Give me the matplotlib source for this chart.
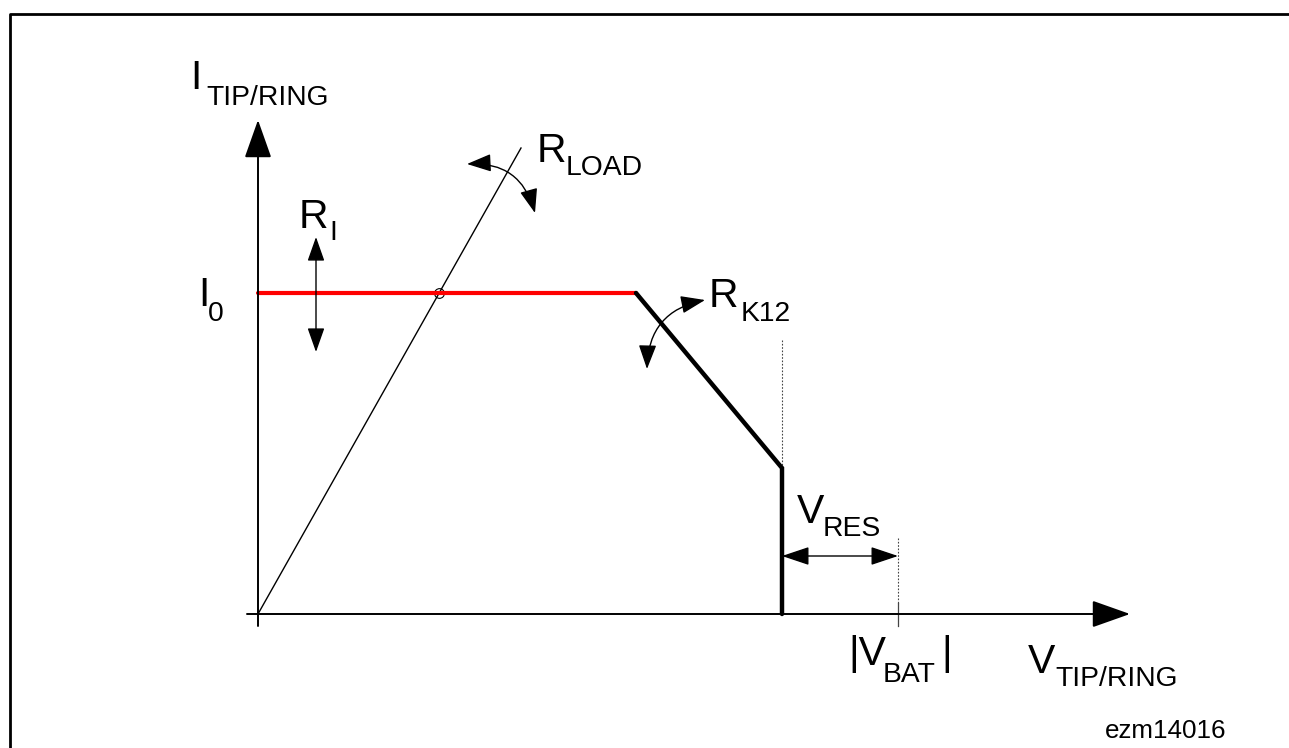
import matplotlib
matplotlib.use("Agg")
import matplotlib.pyplot as plt

plt.rcParams['font.family'] = ['Liberation Sans', 'DejaVu Sans']

# characteristic, arbitrary units (V along x, I along y)
i_0 = 32.1
v_flat = [0.0, 37.8]
i_flat = [i_0, i_0]
v_fold = [37.8, 52.4, 52.4]
i_fold = [i_0, 14.6, 0.0]
v_bat = 64.0
v_knee = 52.4
i_knee = 14.6

# load line through the origin
v_load = [0.0, 26.3]
i_load = [0.0, 46.6]
v_cross = 18.1

fig = plt.figure(figsize=(12.89, 7.48), dpi=100)
ax = fig.add_axes([0, 0, 1, 1])
ax.set_xlim(-25.8, 103.1)
ax.set_ylim(-13.4, 61.4)
ax.axis('off')

# frame
ax.plot([-24.8, -24.8, 110], [-20, 60.0, 60.0], color='black', lw=2.0)

def arrow(tail, tip, style, lw=1.4, rad=0.0):
    ax.annotate('', xy=tip, xytext=tail,
                arrowprops=dict(arrowstyle=style, color='black', lw=lw,
                                shrinkA=0, shrinkB=0, mutation_scale=1,
                                connectionstyle=f'arc3,rad={rad}'))

# axes
arrow((0, -1.2), (0, 49.4), '-|>,head_length=24,head_width=8.5')
arrow((-1.1, 0), (87.2, 0), '-|>,head_length=24,head_width=8.5')

# guide lines
ax.plot([v_knee, v_knee], [27.4, i_knee], color='#444444', lw=0.8, ls=(0, (1.5, 1.5)))
ax.plot([v_bat, v_bat], [7.6, 1.1], color='#444444', lw=0.8, ls=(0, (1.5, 1.5)))
ax.plot([v_bat, v_bat], [1.1, -1.2], color='#444444', lw=0.9)

# load line and operating point
ax.plot(v_load, i_load, color='black', lw=1.0)
ax.plot([v_cross], [i_0], marker='o', ms=7, mfc='none', mec='black', mew=0.8)

# characteristic
ax.plot(v_flat, i_flat, color='#ff0000', lw=3.0, solid_capstyle='round')
ax.plot(v_fold, i_fold, color='black', lw=3.2, solid_capstyle='round',
        solid_joinstyle='miter')

# adjustment arrows
arrow((5.8, 26.2), (5.8, 37.7), '<|-|>,head_length=15,head_width=5.3', lw=1.0)
arrow((v_knee, 5.8), (v_bat, 5.8), '<|-|>,head_length=17,head_width=5.7', lw=1.0)
arrow((20.9, 45.0), (27.7, 40.1), '<|-|>,head_length=15,head_width=5.5', lw=1.0, rad=-0.4)
arrow((44.7, 31.4), (38.9, 24.5), '<|-|>,head_length=15,head_width=5.5', lw=1.0, rad=0.4)

# labels: main letter + subscript
big, small = 29.5, 20.3
labels = [
    ('I', (-6.8, 52.5), 'TIP/RING', (-5.2, 50.9)),
    ('R', (27.9, 45.2), 'LOAD', (30.8, 43.9)),
    ('R', (4.1, 38.6), 'I', (7.1, 37.4)),
    ('I', (-6.0, 30.8), '0', (-5.0, 29.3)),
    ('R', (45.1, 30.7), 'K12', (48.3, 29.3)),
    ('V', (53.9, 9.1), 'RES', (56.5, 7.8)),
    ('|V', (59.0, -5.1), 'BAT', (62.5, -6.8)),
    ('V', (77.0, -5.9), 'TIP/RING', (79.7, -7.2)),
]
for main, p_main, sub, p_sub in labels:
    ax.text(*p_main, main, fontsize=big, ha='left', va='baseline')
    ax.text(*p_sub, sub, fontsize=small, ha='left', va='baseline')
ax.text(68.3, -5.1, '|', fontsize=big, ha='left', va='baseline')

ax.text(84.7, -12.4, 'ezm14016', fontsize=18.7, ha='left', va='baseline')

fig.savefig('out.png', dpi=100)
